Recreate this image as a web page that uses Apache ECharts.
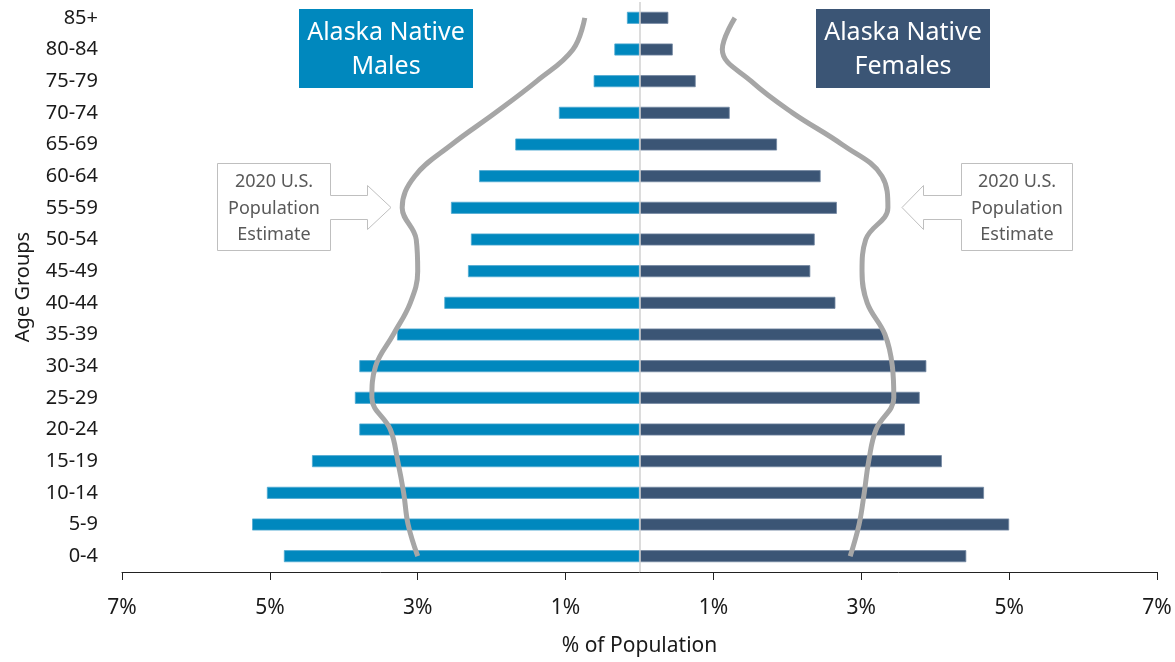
<!DOCTYPE html>
<html>
<head>
<meta charset="utf-8">
<script src="https://cdn.jsdelivr.net/npm/echarts@6/dist/echarts.min.js"></script>
<style>html,body{margin:0;padding:0;background:#fff}#c{width:1175px;height:662px}</style>
</head>
<body>
<div id="c"></div>
<script>
const ageGroups = ['0-4','5-9','10-14','15-19','20-24','25-29','30-34','35-39','40-44','45-49','50-54','55-59','60-64','65-69','70-74','75-79','80-84','85+'];
const alaskaMales   = [4.81,5.24,5.04,4.43,3.79,3.85,3.79,3.28,2.64,2.32,2.28,2.55,2.17,1.68,1.09,0.62,0.34,0.17];
const alaskaFemales = [4.42,5.00,4.66,4.09,3.59,3.79,3.88,3.31,2.65,2.31,2.37,2.67,2.45,1.86,1.22,0.76,0.45,0.39];
const usMales   = [3.00,3.13,3.19,3.27,3.37,3.62,3.57,3.33,3.10,3.00,3.02,3.21,3.04,2.54,1.95,1.39,0.90,0.74];
const usFemales = [2.85,2.97,3.04,3.10,3.20,3.44,3.42,3.32,3.08,3.01,3.06,3.36,3.28,2.74,2.07,1.51,1.12,1.29];
const xTicks = [-7,-5,-3,-1,1,3,5,7];

const FONT = 'Noto Sans';
const chart = echarts.init(document.getElementById('c'), null, {renderer:'canvas'});

function callout(pts){
  return {type:'polygon', shape:{points:pts}, style:{fill:'#fff', stroke:'#bfbfbf', lineWidth:1}, z:10};
}
function txt(x,y,text,size,color){
  return {type:'text', x:x, y:y, style:{text:text, fontFamily:FONT, fontSize:size, fill:color, align:'center', verticalAlign:'middle'}, z:11};
}

chart.setOption({
  animation:false,
  grid:{left:122, right:18, top:2, bottom:90, containLabel:false},
  xAxis:{
    type:'value', min:-7, max:7,
    name:'% of Population', nameLocation:'middle', nameGap:64,
    nameTextStyle:{fontFamily:FONT, fontSize:21, color:'#1a1a1a'},
    axisLine:{show:true, lineStyle:{color:'#222', width:1}},
    axisTick:{show:true, length:8, customValues:xTicks, lineStyle:{color:'#222'}},
    axisLabel:{customValues:xTicks, margin:26, fontFamily:FONT, fontSize:21, color:'#1a1a1a',
      formatter:function(v){return Math.abs(v)+'%';}},
    splitLine:{show:false}
  },
  yAxis:{
    type:'category', data:ageGroups,
    name:'Age Groups', nameLocation:'middle', nameGap:89, nameRotate:90,
    nameTextStyle:{fontFamily:FONT, fontSize:20, color:'#1a1a1a'},
    axisLine:{show:false}, axisTick:{show:false},
    axisLabel:{margin:24, fontFamily:FONT, fontSize:20, color:'#1a1a1a'}
  },
  series:[
    {type:'bar', name:'Alaska Native Males', data:alaskaMales.map(v=>-v), barWidth:12, barGap:'-100%',
      itemStyle:{color:'#0088be', borderColor:'#4fa9d2', borderWidth:0.8},
      markLine:{silent:true, symbol:'none', label:{show:false},
        lineStyle:{color:'#d0d0d0', width:1.5, type:'solid'}, data:[{xAxis:0}]}},
    {type:'bar', name:'Alaska Native Females', data:alaskaFemales, barWidth:12, barGap:'-100%',
      itemStyle:{color:'#3b5575', borderColor:'#7488a2', borderWidth:0.8}},
    {type:'line', name:'US Males', data:usMales.map(v=>-v), smooth:0.4, symbol:'none',
      lineStyle:{color:'#a6a6a6', width:5}, z:5},
    {type:'line', name:'US Females', data:usFemales, smooth:0.4, symbol:'none',
      lineStyle:{color:'#a6a6a6', width:5}, z:5}
  ],
  graphic:[
    {type:'rect', shape:{x:299, y:9, width:174, height:79}, style:{fill:'#0088be'}, z:10},
    txt(386,33,'Alaska Native',25,'#fff'),
    txt(386,67,'Males',25,'#fff'),
    {type:'rect', shape:{x:816, y:9, width:174, height:79}, style:{fill:'#3b5575'}, z:10},
    txt(903,33,'Alaska Native',25,'#fff'),
    txt(903,67,'Females',25,'#fff'),
    callout([[217.5,163.5],[330.5,163.5],[330.5,195.5],[367.5,195.5],[367.5,185.5],[391,207.5],[367.5,229.5],[367.5,219.5],[330.5,219.5],[330.5,250.5],[217.5,250.5]]),
    txt(274,182,'2020 U.S.',18,'#595959'),
    txt(274,209,'Population',18,'#595959'),
    txt(274,235,'Estimate',18,'#595959'),
    callout([[1072.5,163.5],[961.5,163.5],[961.5,195.5],[923.5,195.5],[923.5,185.5],[902,207.5],[923.5,229.5],[923.5,219.5],[961.5,219.5],[961.5,250.5],[1072.5,250.5]]),
    txt(1017,182,'2020 U.S.',18,'#595959'),
    txt(1017,209,'Population',18,'#595959'),
    txt(1017,235,'Estimate',18,'#595959')
  ]
});
</script>
</body>
</html>
